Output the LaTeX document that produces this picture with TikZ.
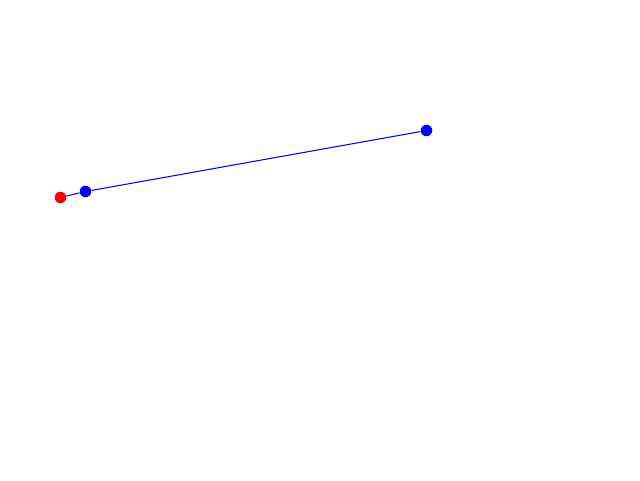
\documentclass[tikz,border=0pt]{standalone}
\begin{document}
\begin{tikzpicture}[
  dotred/.style={circle, fill=red, inner sep=0pt, minimum size=0.23cm},
  dotblue/.style={circle, fill=blue, inner sep=0pt, minimum size=0.23cm},
  link/.style={draw=blue, line width=0.6pt}
]
\useasboundingbox (0,0) rectangle (12.8,9.6);
\node[dotred] (r) at (1.21,5.65) {};
\node[dotblue] (b1) at (1.71,5.77) {};
\node[dotblue] (b2) at (8.53,6.99) {};
\draw[link] (r) -- (b1);
\draw[link] (b1) -- (b2);
\end{tikzpicture}
\end{document}
